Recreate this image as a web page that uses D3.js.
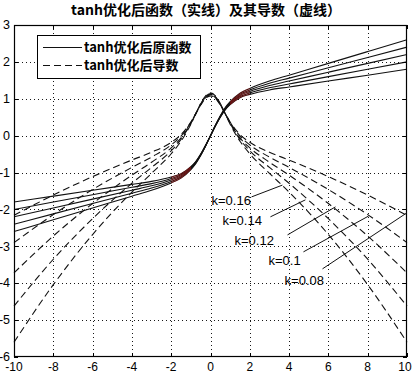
<!DOCTYPE html>
<html>
<head>
<meta charset="utf-8">
<script src="https://cdn.jsdelivr.net/npm/d3@7"></script>
<style>
    html, body { margin: 0; padding: 0; background: #fff; }
    svg { display: block; }
</style>
</head>
<body>
<main></main>
<script>
// x sample points
const xs = [-10, -8, -6, -4, -3, -2, -1.5, -1, -0.75, -0.5, -0.25, 0, 0.25, 0.5, 0.75, 1, 1.5, 2, 3, 4, 6, 8, 10];

const kValues = [0.08, 0.1, 0.12, 0.14, 0.16];

// solid lines: optimised tanh
const fn008 = [-1.80, -1.64, -1.48, -1.32, -1.24, -1.12, -1.03, -0.84, -0.70, -0.50, -0.26, 0, 0.26, 0.50, 0.70, 0.84, 1.03, 1.12, 1.24, 1.32, 1.48, 1.64, 1.80];
const fn010 = [-2.00, -1.80, -1.60, -1.40, -1.30, -1.16, -1.06, -0.86, -0.71, -0.51, -0.27, 0, 0.27, 0.51, 0.71, 0.86, 1.06, 1.16, 1.30, 1.40, 1.60, 1.80, 2.00];
const fn012 = [-2.20, -1.96, -1.72, -1.48, -1.36, -1.20, -1.09, -0.88, -0.73, -0.52, -0.27, 0, 0.27, 0.52, 0.73, 0.88, 1.09, 1.20, 1.36, 1.48, 1.72, 1.96, 2.20];
const fn014 = [-2.40, -2.12, -1.84, -1.56, -1.42, -1.24, -1.12, -0.90, -0.74, -0.53, -0.28, 0, 0.28, 0.53, 0.74, 0.90, 1.12, 1.24, 1.42, 1.56, 1.84, 2.12, 2.40];
const fn016 = [-2.60, -2.28, -1.96, -1.64, -1.48, -1.28, -1.15, -0.92, -0.76, -0.54, -0.28, 0, 0.28, 0.54, 0.76, 0.92, 1.15, 1.28, 1.48, 1.64, 1.96, 2.28, 2.60];

// dashed lines: derivatives
const dv008 = [-2.16, -1.61, -1.11, -0.66, -0.45, -0.18, 0.03, 0.37, 0.60, 0.83, 1.01, 1.08, 1.01, 0.83, 0.60, 0.37, 0.03, -0.18, -0.45, -0.66, -1.11, -1.61, -2.16];
const dv010 = [-2.90, -2.14, -1.46, -0.86, -0.58, -0.25, -0.01, 0.36, 0.60, 0.84, 1.03, 1.10, 1.03, 0.84, 0.60, 0.36, -0.01, -0.25, -0.58, -0.86, -1.46, -2.14, -2.90];
const dv012 = [-3.72, -2.72, -1.84, -1.07, -0.72, -0.33, -0.06, 0.34, 0.59, 0.85, 1.04, 1.12, 1.04, 0.85, 0.59, 0.34, -0.06, -0.33, -0.72, -1.07, -1.84, -2.72, -3.72];
const dv014 = [-4.62, -3.35, -2.25, -1.29, -0.86, -0.41, -0.10, 0.33, 0.59, 0.86, 1.06, 1.14, 1.06, 0.86, 0.59, 0.33, -0.10, -0.41, -0.86, -1.29, -2.25, -3.35, -4.62];
const dv016 = [-5.60, -4.04, -2.68, -1.53, -1.02, -0.49, -0.15, 0.31, 0.59, 0.87, 1.08, 1.16, 1.08, 0.87, 0.59, 0.31, -0.15, -0.49, -1.02, -1.53, -2.68, -4.04, -5.60];

const fnSeries = [fn008, fn010, fn012, fn014, fn016];
const dvSeries = [dv008, dv010, dv012, dv014, dv016];

const xTicks = [-10, -8, -6, -4, -2, 0, 2, 4, 6, 8, 10];
const yTicks = [-6, -5, -4, -3, -2, -1, 0, 1, 2, 3];

const title = 'tanh优化后函数（实线）及其导数（虚线）';
const legendLabels = ['tanh优化后原函数', 'tanh优化后导数'];

// k labels: text position and leader line, in data units
const kLabels = ['k=0.16', 'k=0.14', 'k=0.12', 'k=0.1', 'k=0.08'];
const kText = [[0.05, -1.88], [0.61, -2.42], [1.22, -2.96], [2.95, -3.50], [3.77, -4.05]];
const kLeader = [
    [[2.09, -1.66], [3.66, -1.34]],
    [[3.05, -2.20], [4.83, -1.74]],
    [[3.92, -2.69], [6.36, -1.93]],
    [[4.73, -3.15], [8.04, -2.18]],
    [[5.70, -3.61], [10.0, -2.09]],
];

const width = 415;
const height = 374;
const plotLeft = 14, plotRight = 407, plotTop = 25, plotBottom = 357;

const x = d3.scaleLinear().domain([-10, 10]).range([plotLeft, plotRight]);
const y = d3.scaleLinear().domain([-6, 3]).range([plotBottom, plotTop]);

const line = d3.line()
    .x(d => x(d[0]))
    .y(d => y(d[1]))
    .curve(d3.curveMonotoneX);

const svg = d3.select('main')
    .append('svg')
    .attr('width', width)
    .attr('height', height)
    .attr('viewBox', `0 0 ${width} ${height}`);

svg.append('rect')
    .attr('width', width)
    .attr('height', height)
    .attr('fill', '#fff');

// grid
const grid = svg.append('g')
    .attr('stroke', '#000')
    .attr('stroke-width', 1)
    .attr('stroke-dasharray', '1,3')
    .attr('opacity', 0.9);

grid.selectAll('line.gx')
    .data(xTicks.slice(1, -1))
    .enter()
    .append('line')
    .attr('x1', d => Math.round(x(d)) + 0.5)
    .attr('x2', d => Math.round(x(d)) + 0.5)
    .attr('y1', plotTop)
    .attr('y2', plotBottom);

grid.selectAll('line.gy')
    .data(yTicks.slice(1, -1))
    .enter()
    .append('line')
    .attr('y1', d => Math.round(y(d)) + 0.5)
    .attr('y2', d => Math.round(y(d)) + 0.5)
    .attr('x1', plotLeft)
    .attr('x2', plotRight);

// curves
const plot = svg.append('g')
    .attr('fill', 'none');

fnSeries.forEach(vals => {
    plot.append('path')
        .attr('d', line(xs.map((v, i) => [v, vals[i]])))
        .attr('stroke', '#111')
        .attr('stroke-width', 1.1);
});

dvSeries.forEach(vals => {
    plot.append('path')
        .attr('d', line(xs.map((v, i) => [v, vals[i]])))
        .attr('stroke', '#111')
        .attr('stroke-width', 1.1)
        .attr('stroke-dasharray', '7,4');
});

// reddish tint where the solid lines bunch up
fnSeries.forEach(vals => {
    [[-2, -1], [1, 2]].forEach(([a, b]) => {
        const pts = xs.map((v, i) => [v, vals[i]]).filter(p => p[0] >= a && p[0] <= b);
        plot.append('path')
            .attr('d', line(pts))
            .attr('stroke', '#c01010')
            .attr('stroke-width', 0.8)
            .attr('opacity', 0.55);
    });
});

// frame and ticks
svg.append('rect')
    .attr('x', plotLeft + 0.5)
    .attr('y', plotTop + 0.5)
    .attr('width', plotRight - plotLeft - 1)
    .attr('height', plotBottom - plotTop - 1)
    .attr('fill', 'none')
    .attr('stroke', '#000')
    .attr('stroke-width', 1.2);

const tickLen = 4;
const ticks = svg.append('g')
    .attr('stroke', '#000')
    .attr('stroke-width', 1);

xTicks.forEach(t => {
    const px = Math.round(x(t)) + 0.5;
    ticks.append('line').attr('x1', px).attr('x2', px).attr('y1', plotBottom).attr('y2', plotBottom - tickLen);
    ticks.append('line').attr('x1', px).attr('x2', px).attr('y1', plotTop).attr('y2', plotTop + tickLen);
});
yTicks.forEach(t => {
    const py = Math.round(y(t)) + 0.5;
    ticks.append('line').attr('y1', py).attr('y2', py).attr('x1', plotLeft).attr('x2', plotLeft + tickLen);
    ticks.append('line').attr('y1', py).attr('y2', py).attr('x1', plotRight).attr('x2', plotRight - tickLen);
});

const labelFont = '"Liberation Sans", Arial, sans-serif';

// x labels, the outer ones kept inside the picture
svg.append('g')
    .selectAll('text')
    .data(xTicks)
    .enter()
    .append('text')
    .attr('x', d => Math.min(Math.max(x(d), 9), 405))
    .attr('y', 370.5)
    .attr('text-anchor', 'middle')
    .attr('font-family', labelFont)
    .attr('font-size', 12)
    .attr('fill', '#000')
    .text(d => d);

svg.append('g')
    .selectAll('text')
    .data(yTicks)
    .enter()
    .append('text')
    .attr('x', 10)
    .attr('y', d => y(d))
    .attr('dy', '0.34em')
    .attr('text-anchor', 'end')
    .attr('font-family', labelFont)
    .attr('font-size', 12.5)
    .attr('fill', '#000')
    .text(d => d);

// title
svg.append('text')
    .attr('x', 206)
    .attr('y', 15)
    .attr('text-anchor', 'middle')
    .attr('font-family', '"Noto Sans CJK SC", sans-serif')
    .attr('font-weight', 'bold')
    .attr('font-size', 14)
    .attr('fill', '#000')
    .text(title);

// legend
const legend = svg.append('g');
legend.append('rect')
    .attr('x', 37.5)
    .attr('y', 35.5)
    .attr('width', 163)
    .attr('height', 43)
    .attr('fill', '#fff')
    .attr('stroke', '#000')
    .attr('stroke-width', 1);

legendLabels.forEach((label, i) => {
    const ly = 47.5 + i * 18;
    legend.append('line')
        .attr('x1', 43)
        .attr('x2', 82)
        .attr('y1', ly)
        .attr('y2', ly)
        .attr('stroke', '#111')
        .attr('stroke-width', 1.1)
        .attr('stroke-dasharray', i === 1 ? '7,4' : null);
    legend.append('text')
        .attr('x', 84)
        .attr('y', ly)
        .attr('dy', '0.36em')
        .attr('font-family', '"Noto Sans CJK SC", sans-serif')
        .attr('font-weight', 'bold')
        .attr('font-size', 13)
        .attr('fill', '#000')
        .text(label);
});

// k annotations
const notes = svg.append('g');
kLabels.forEach((label, i) => {
    notes.append('line')
        .attr('x1', x(kLeader[i][0][0]))
        .attr('y1', y(kLeader[i][0][1]))
        .attr('x2', x(kLeader[i][1][0]))
        .attr('y2', y(kLeader[i][1][1]))
        .attr('stroke', '#111')
        .attr('stroke-width', 1);
    notes.append('text')
        .attr('x', x(kText[i][0]))
        .attr('y', y(kText[i][1]))
        .attr('font-family', labelFont)
        .attr('font-size', 13)
        .attr('fill', '#000')
        .text(label);
});
</script>
</body>
</html>
